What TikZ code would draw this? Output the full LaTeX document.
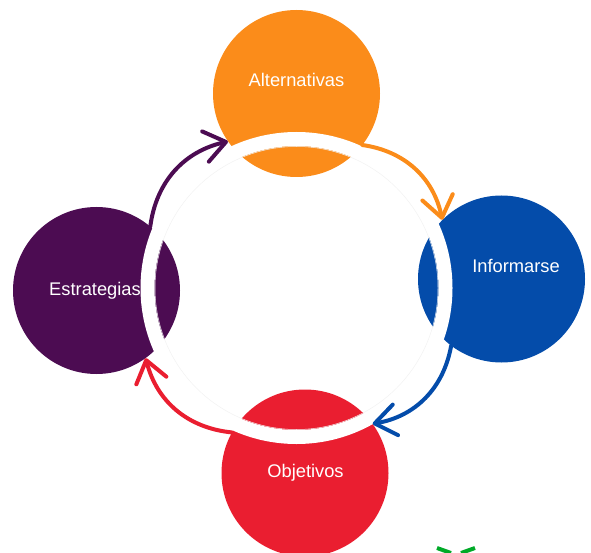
\documentclass[tikz,border=0pt]{standalone}
\usepackage{fontspec}
\setmainfont{Liberation Sans}
\usepackage{tikz}
\usetikzlibrary{arrows.meta}
\definecolor{altorange}{RGB}{251, 140, 26}
\definecolor{infblue}{RGB}{4, 76, 170}
\definecolor{objred}{RGB}{234, 30, 48}
\definecolor{estpurple}{RGB}{76, 12, 82}
\definecolor{markgreen}{RGB}{0, 170, 40}
\definecolor{ringgray}{gray}{0.95}

\tikzset{
  stage/.style={circle, minimum size=167pt, inner sep=0pt},
  stagelbl/.style={text=white, anchor=base, font=\fontsize{18.3}{21}\selectfont},
  flow/.style={line width=4pt, line cap=round,
    -{Straight Barb[length=21pt, width=31pt, round]}, bend left=35}
}

\begin{document}
\begin{tikzpicture}[x=1pt, y=-1pt]
  \useasboundingbox (0, 0) rectangle (591, 553);

  \node[stage, fill=altorange] (alt) at (296.5, 93.5) {};
  \node[stage, fill=infblue] (inf) at (501.5, 279) {};
  \node[stage, fill=objred] (obj) at (305, 473) {};
  \node[stage, fill=estpurple] (est) at (96.5, 290.5) {};

  % white ring over the four circles
  \coordinate (hub) at (296.5, 288);
  \draw[color=white, line width=14pt] (hub) circle (149);
  \draw[color=ringgray, line width=0.5pt] (hub) circle (141.5);

  \draw[flow, color=estpurple] (est.50) to (alt.215);
  \draw[flow, color=altorange] (alt.-38) to (inf.135);
  \draw[flow, color=infblue] (inf.233) to (obj.36);
  \draw[flow, color=objred] (obj.151) to (est.-54);

  \node[stagelbl] (altlbl) at (296.5, 87) {Alternativas};
  \node[stagelbl] (inflbl) at (516, 272.7) {Informarse};
  \node[stagelbl] (objlbl) at (305.5, 477.5) {Objetivos};
  \node[stagelbl] (estlbl) at (95, 295.7) {Estrategias};

  % cut-off mark at the bottom edge
  \draw[color=markgreen, line width=4pt] (437, 548) -- (451, 553);
  \draw[color=markgreen, line width=4pt] (475, 548) -- (461, 553);
\end{tikzpicture}
\end{document}
